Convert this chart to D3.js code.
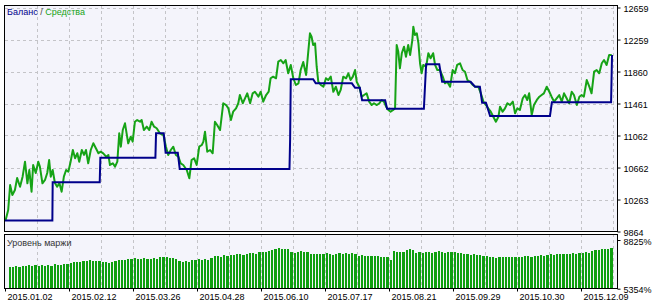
<!DOCTYPE html>
<html>
<head>
<meta charset="utf-8">
<script src="https://cdn.jsdelivr.net/npm/d3@7"></script>
<style>
    body { margin: 0; background: #fff; }
    svg { display: block; font-family: 'Liberation Sans', Arial, sans-serif; font-size: 9px; }
</style>
</head>
<body>
<svg id="chart" width="663" height="306"></svg>
<script>
// date labels sit on every 20th bar
const dateLabels = ['2015.01.02', '2015.02.12', '2015.03.26', '2015.04.28', '2015.06.10',
    '2015.07.17', '2015.08.21', '2015.09.29', '2015.10.30', '2015.12.09'];
const dateBars = [0, 20, 40, 60, 80, 100, 120, 140, 160, 180];
const priceTicks = [9864, 10263, 10662, 11062, 11461, 11860, 12259, 12659];
const marginTicks = [5354, 8825];

// balance: [bar, value]
const balance = [
    [0, 10000], [14.8, 10000], [14.9, 10478], [29.6, 10478], [29.8, 10785], [47.0, 10785],
    [47.2, 11089], [49.6, 11089], [50.2, 10847], [54.0, 10847], [54.6, 10644], [88.9, 10644],
    [89.1, 11015], [89.3, 11763], [96.3, 11763], [97.1, 11713], [108.4, 11713], [109.4, 11658],
    [110.9, 11658], [111.6, 11501], [118.8, 11501], [119.4, 11396], [130.9, 11396], [131.6, 11950],
    [135.7, 11950], [136.6, 11733], [145.5, 11733], [146.9, 11671], [148.4, 11671], [149.1, 11471],
    [150.3, 11471], [151.6, 11305], [170.3, 11305], [170.9, 11476], [189.4, 11476], [189.7, 12066]
];

// equity: [bar, value]
const equity = [
    [0.2, 10007], [1.0, 10132], [1.6, 10444], [2.3, 10319], [3.1, 10382], [3.8, 10532], [4.7, 10423],
    [5.5, 10548], [6.25, 10735], [7.0, 10465], [7.6, 10631], [8.3, 10361], [8.8, 10694], [9.6, 10594],
    [10.4, 10735], [10.9, 10673], [11.7, 10465], [12.5, 10507], [13.2, 10594], [13.8, 10756], [14.3, 10548],
    [14.9, 10631], [15.6, 10469], [16.3, 10423], [17.0, 10469], [17.7, 10361], [18.4, 10548], [19.1, 10631],
    [19.8, 10610], [20.5, 10735], [21.2, 10881], [21.9, 10777], [22.6, 10840], [23.2, 10735], [24.0, 10881],
    [24.7, 10819], [25.3, 10881], [26.0, 10715], [26.8, 10881], [27.6, 10965], [28.4, 10902], [29.2, 10840],
    [29.9, 10860], [30.7, 10840], [31.6, 10797], [32.3, 10819], [32.8, 10694], [33.7, 10715], [34.4, 10673],
    [35.1, 10735], [35.7, 11089], [36.2, 10922], [36.8, 11130], [37.5, 11214], [38.0, 11089], [38.5, 10965],
    [39.3, 11047], [39.9, 10985], [40.6, 11234], [41.3, 11255], [42.2, 11234], [42.7, 11255], [43.4, 11130],
    [44.3, 11172], [45.1, 11130], [45.8, 11234], [46.6, 11172], [47.4, 11152], [48.4, 11089], [49.5, 11068],
    [50.3, 10922], [51.0, 10819], [51.8, 10881], [52.6, 10922], [53.4, 10819], [54.2, 10797], [54.9, 10715],
    [55.7, 10694], [56.8, 10631], [57.6, 10528], [58.3, 10756], [59.1, 10777], [59.9, 10694], [60.7, 10922],
    [61.5, 10943], [62.0, 10985], [62.5, 11109], [63.2, 10860], [64.1, 10881], [64.9, 10840], [65.6, 11234],
    [66.3, 11193], [67.2, 11130], [68.2, 11464], [69.1, 11442], [69.8, 11401], [70.6, 11255], [71.3, 11359],
    [72.2, 11401], [72.9, 11464], [73.4, 11567], [74.3, 11464], [75.0, 11526], [75.7, 11588], [76.6, 11464],
    [77.4, 11588], [78.1, 11608], [79.2, 11546], [79.9, 11608], [80.7, 11484], [81.6, 11567], [82.4, 11608],
    [83.0, 11776], [83.8, 11796], [84.7, 11776], [85.4, 11983], [86.2, 12004], [87.0, 11963], [87.7, 12004],
    [88.5, 11838], [89.3, 11942], [90.1, 11776], [90.9, 11692], [91.7, 11713], [92.4, 11879], [93.2, 11979],
    [94.1, 11817], [95.3, 12337], [95.8, 12295], [96.3, 12191], [96.9, 12212], [97.4, 11920], [97.9, 11733],
    [98.7, 11692], [99.5, 11671], [100.3, 11776], [101.0, 11754], [101.8, 11796], [102.6, 11608], [103.4, 11671],
    [104.2, 11567], [104.9, 11630], [105.7, 11796], [106.6, 11776], [107.3, 11838], [108.0, 11754], [108.7, 11796],
    [109.4, 11879], [109.9, 11733], [110.7, 11671], [111.5, 11546], [112.2, 11567], [113.0, 11588], [113.8, 11484],
    [114.6, 11442], [115.3, 11464], [116.2, 11442], [117.0, 11464], [117.7, 11505], [118.4, 11484], [119.1, 11421],
    [119.8, 11380], [120.5, 11359], [121.3, 11380], [121.9, 11401], [122.4, 12191], [122.9, 12107], [123.4, 11900],
    [124.0, 12088], [124.7, 12170], [125.3, 12045], [126.0, 12191], [126.6, 12066], [127.3, 12254], [127.6, 12420],
    [128.1, 12316], [128.7, 12337], [129.2, 12212], [129.7, 11963], [130.2, 11838], [130.7, 11942], [131.6, 11920],
    [132.3, 12088], [133.0, 12025], [133.8, 12088], [134.4, 11942], [135.1, 11879], [135.9, 11879], [136.8, 11796],
    [137.5, 11713], [138.2, 11733], [139.1, 11671], [139.9, 11879], [140.6, 11838], [141.3, 11942], [142.2, 11963],
    [143.0, 11879], [143.75, 11858], [144.5, 11754], [145.3, 11733], [146.2, 11692], [146.9, 11671], [147.9, 11671],
    [148.7, 11588], [149.5, 11484], [150.3, 11442], [151.0, 11401], [151.8, 11359], [152.6, 11296], [153.4, 11234],
    [154.2, 11296], [154.7, 11421], [155.5, 11359], [156.25, 11401], [157.0, 11464], [157.8, 11442], [158.7, 11484],
    [159.4, 11339], [160.1, 11401], [160.9, 11380], [161.8, 11526], [162.5, 11567], [163.2, 11505], [163.8, 11588],
    [164.6, 11318], [165.3, 11442], [166.2, 11505], [167.0, 11546], [167.7, 11567], [168.4, 11588], [169.3, 11671],
    [170.1, 11608], [170.8, 11546], [171.6, 11484], [172.4, 11526], [173.2, 11567], [174.0, 11484], [174.7, 11588],
    [175.5, 11526], [176.3, 11464], [177.1, 11608], [177.8, 11567], [178.7, 11442], [179.5, 11546], [180.2, 11567],
    [180.9, 11546], [181.8, 11754], [182.6, 11671], [183.3, 11588], [184.1, 11858], [184.9, 11879], [185.7, 11838],
    [186.5, 11963], [187.2, 12004], [188.0, 11942], [188.8, 12066], [189.6, 12066]
];

// margin level %, one bar per index
const marginLevel = [
    6930, 6880, 6950, 6920, 7000, 6960, 7020, 6980, 7050, 6990, 7030, 6970, 7060,
    7000, 7080, 7020, 7060, 7100, 7150, 7190, 7230, 7270, 7250, 7330, 7300, 7380,
    7350, 7320, 7360, 7290, 7250, 7200, 7230, 7310, 7420, 7380, 7400, 7480, 7460,
    7520, 7500, 7470, 7530, 7500, 7450, 7520, 7480, 7600, 7580, 7620, 7560, 7540,
    7490, 7350, 7270, 7300, 7260, 7380, 7420, 7460, 7400, 7480, 7430, 7560, 7650,
    7700, 7620, 7760, 7700, 7780, 7740, 7800, 7820, 7760, 7850, 7880, 7920, 7850,
    7960, 8000, 7980, 8050, 8100, 8200, 8220, 8200, 8150, 8180, 7960, 7900, 7990,
    8050, 7940, 7960, 7860, 7800, 7820, 7850, 7800, 7870, 7830, 7780, 7860, 7880,
    7820, 7870, 7800, 7880, 7820, 7710, 7740, 7700, 7690, 7720, 7660, 7700, 7640,
    7620, 7600, 7400, 8060, 7940, 8000, 7990, 8100, 8160, 8120, 7900, 7950, 7930,
    7990, 7950, 7900, 7980, 8010, 7980, 7930, 8000, 7940, 7960, 7920, 7880, 7840,
    7860, 7780, 7800, 7760, 7740, 7700, 7660, 7640, 7600, 7560, 7620, 7600, 7580,
    7620, 7600, 7580, 7640, 7620, 7660, 7700, 7640, 7720, 7680, 7760, 7720, 7780,
    7800, 7760, 7820, 7800, 7840, 7820, 7860, 7880, 7860, 7900, 7880, 7940, 7920,
    8010, 8080, 8120, 8160, 8170, 8190, 8240
];

const svg = d3.select('#chart');

const left = 4.5, right = 617.5;
const main = { top: 5, bottom: 231.5 };
const sub = { top: 234, bottom: 288.5 };

const x = d3.scaleLinear().domain([0, 190]).range([5, 613]);
const y = d3.scaleLinear().domain([9864, 12659]).range([231.5, 7.5]);
const ym = d3.scaleLinear().domain([5354, 8825]).range([288.7, 240]);

// panel backgrounds
svg.append('rect').attr('x', left).attr('y', main.top)
    .attr('width', right - left).attr('height', main.bottom - main.top).attr('fill', '#f4f4fb');
svg.append('rect').attr('x', left).attr('y', sub.top)
    .attr('width', right - left).attr('height', sub.bottom - sub.top).attr('fill', '#f4f4fb');

// grid
const gridBars = d3.range(10, 191, 10);
const grid = svg.append('g').attr('stroke', '#c4c4c8').attr('stroke-dasharray', '3,3').attr('shape-rendering', 'crispEdges');
grid.selectAll('.vm').data(gridBars).join('line')
    .attr('x1', (d) => Math.round(x(d)) + 0.5).attr('x2', (d) => Math.round(x(d)) + 0.5)
    .attr('y1', main.top).attr('y2', main.bottom);
grid.selectAll('.vs').data(gridBars).join('line')
    .attr('x1', (d) => Math.round(x(d)) + 0.5).attr('x2', (d) => Math.round(x(d)) + 0.5)
    .attr('y1', sub.top).attr('y2', sub.bottom);
grid.selectAll('.h').data(priceTicks.slice(1)).join('line')
    .attr('x1', left).attr('x2', right)
    .attr('y1', (d) => Math.round(y(d)) + 0.5).attr('y2', (d) => Math.round(y(d)) + 0.5);

// margin level bars, snapped to whole pixels with a 1px gap
svg.append('g').attr('shape-rendering', 'crispEdges').selectAll('rect').data(marginLevel).join('rect')
    .attr('x', (d, i) => Math.round(x(i + 1.5) - 1))
    .attr('width', (d, i) => Math.round(x(i + 2.5) - 1) - Math.round(x(i + 1.5) - 1) - 1)
    .attr('y', (d) => Math.round(ym(d)))
    .attr('height', (d) => Math.round(sub.bottom) - Math.round(ym(d)))
    .attr('fill', '#0f9f0f');

// equity & balance
const line = d3.line().x((d) => x(d[0])).y((d) => y(d[1]));
svg.append('path').datum(equity).attr('d', line)
    .attr('fill', 'none').attr('stroke', '#16a316').attr('stroke-width', 2).attr('stroke-linejoin', 'round');
svg.append('path').datum(balance).attr('d', line)
    .attr('fill', 'none').attr('stroke', '#00008b').attr('stroke-width', 2);

// frames
const frame = svg.append('g').attr('fill', 'none').attr('stroke', '#000').attr('shape-rendering', 'crispEdges');
frame.append('rect').attr('x', left).attr('y', main.top).attr('width', right - left).attr('height', main.bottom - main.top);
frame.append('rect').attr('x', left).attr('y', sub.top).attr('width', right - left).attr('height', sub.bottom - sub.top);

// price axis
const yAxis = d3.axisRight(y).tickValues(priceTicks).tickSize(3).tickPadding(3).tickFormat(d3.format('d'));
svg.append('g').attr('transform', `translate(${right},0)`).call(yAxis)
    .call((g) => g.select('.domain').remove())
    .call((g) => g.selectAll('text').attr('font-size', 9).attr('font-family', null).attr('dy', '0.45em').attr('fill', '#000'));

const mAxis = d3.axisRight(ym).tickValues(marginTicks).tickSize(3).tickPadding(3).tickFormat((d) => d + '%');
svg.append('g').attr('transform', `translate(${right},0)`).call(mAxis)
    .call((g) => g.select('.domain').remove())
    .call((g) => g.selectAll('text').attr('font-size', 9).attr('font-family', null).attr('dy', '0.45em').attr('fill', '#000'));

// date axis
const xAxis = d3.axisBottom(x).tickValues(dateBars).tickSize(3).tickPadding(2)
    .tickFormat((d, i) => dateLabels[i]);
svg.append('g').attr('transform', `translate(0,${sub.bottom})`).call(xAxis)
    .call((g) => g.select('.domain').remove())
    .call((g) => g.selectAll('text').attr('font-size', 9).attr('font-family', null)
        .attr('text-anchor', 'start').attr('x', 2).attr('fill', '#000'));

// titles
const title = svg.append('text').attr('x', 7).attr('y', 15);
title.append('tspan').attr('fill', '#00008b').text('Баланс');
title.append('tspan').attr('fill', '#444').text(' / ');
title.append('tspan').attr('fill', '#16a316').text('Средства');

svg.append('text').attr('x', 7).attr('y', 246).attr('fill', '#333').text('Уровень маржи');
</script>
</body>
</html>
